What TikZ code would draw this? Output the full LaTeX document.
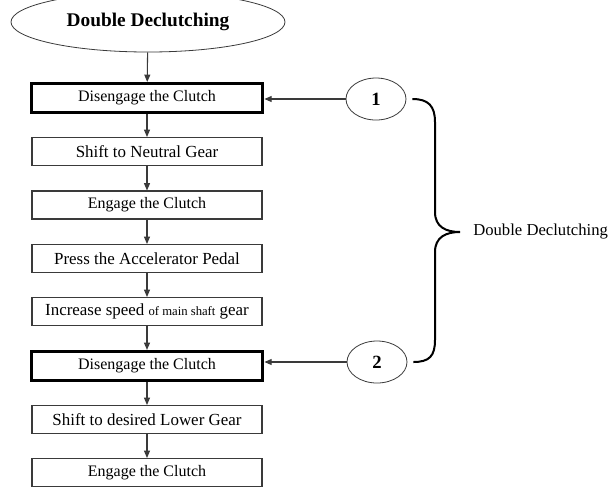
\documentclass[tikz,border=0pt]{standalone}
\usepackage{fontspec}
\setmainfont{Liberation Serif}
\usetikzlibrary{arrows.meta,shapes.geometric}
\definecolor{LineGray}{HTML}{3A3A3A}

\tikzset{
  stepbox/.style={draw=LineGray, line width=0.8pt, inner sep=0pt,
    minimum width=172.5pt, minimum height=21pt,
    font=\fontsize{12.7}{15}\selectfont},
  clutchbox/.style={stepbox, font=\fontsize{12}{14}\selectfont},
  keybox/.style={clutchbox, draw=black, line width=2.6pt,
    minimum width=173.5pt, minimum height=21.5pt},
  marker/.style={ellipse, draw=LineGray, line width=0.6pt,
    minimum width=45pt, minimum height=31.5pt,
    font=\fontsize{14}{16}\selectfont\bfseries},
  flow/.style={LineGray, line width=0.8pt,
    -{Triangle[length=5.5pt,width=4.5pt]}},
  brace/.style={black, line width=1.5pt}
}

\begin{document}
\begin{tikzpicture}[x=0.75pt, y=-0.75pt]
  \useasboundingbox (0,0) rectangle (608,487);
  % Title
  \node[ellipse, draw=LineGray, line width=0.6pt, minimum width=205.5pt,
    minimum height=45pt, font=\fontsize{14.5}{17}\selectfont\bfseries]
    (title) at (148,22) {Double Declutching};
  % Steps
  \node[keybox] (b1) at (147,98) {Disengage the Clutch};
  \node[stepbox] (b2) at (147,151.5) {Shift to Neutral Gear};
  \node[clutchbox] (b3) at (147,205) {Engage the Clutch};
  \node[stepbox] (b4) at (147,258.5) {Press the Accelerator Pedal};
  \node[stepbox] (b5) at (147,311.5) {Increase speed
    {\fontsize{9.5}{11}\selectfont of main shaft} gear};
  \node[keybox] (b6) at (147,366) {Disengage the Clutch};
  \node[stepbox] (b7) at (147,419.5) {Shift to desired Lower Gear};
  \node[clutchbox] (b8) at (147,472.5) {Engage the Clutch};
  % Arrows down the chain
  \draw[flow] (title) -- (b1);
  \draw[flow] (b1) -- (b2);
  \draw[flow] (b2) -- (b3);
  \draw[flow] (b3) -- (b4);
  \draw[flow] (b4) -- (b5);
  \draw[flow] (b5) -- (b6);
  \draw[flow] (b6) -- (b7);
  \draw[flow] (b7) -- (b8);
  % Numbered markers
  \node[marker] (one) at (376,99) {1};
  \node[marker] (two) at (377,362) {2};
  \draw[flow] (one.west) -- (one.west -| b1.east);
  \draw[flow] (two.west) -- (two.west -| b6.east);
  % Brace between the two markers
  \coordinate (tip) at (460,232);
  \draw[brace] ([xshift=4.5pt]one.east) .. controls +(16,0) and +(0,-16) ..
    (435,122) -- (435,212) .. controls +(0,15) and +(-14,0) .. (tip)
    .. controls +(-14,0) and +(0,-15) .. (435,252) -- (435,340)
    .. controls +(0,16) and +(16,0) .. ([xshift=4.5pt]two.east);
  \node[anchor=west, inner sep=0pt, font=\fontsize{12.5}{15}\selectfont]
    (bracelabel) at (473,232) {Double Declutching};
\end{tikzpicture}
\end{document}
